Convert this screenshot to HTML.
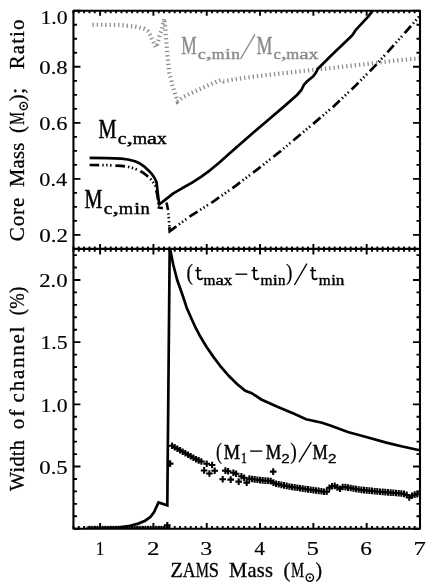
<!DOCTYPE html>
<html><head><meta charset="utf-8"><title>chart</title>
<style>html,body{margin:0;padding:0;background:#fff;}svg{display:block;}text{font-family:"Liberation Sans",sans-serif;}</style></head><body>
<svg width="436" height="588" viewBox="0 0 436 588" style="will-change:transform;opacity:0.9999">
<rect x="0" y="0" width="436" height="588" fill="#fff"/>
<path d="M73.45 10.80L73.45 13.30M73.45 246.40L73.45 251.70M73.45 528.70L73.45 525.90M78.78 10.80L78.78 13.30M78.78 246.40L78.78 251.70M78.78 528.70L78.78 525.90M84.11 10.80L84.11 13.30M84.11 246.40L84.11 251.70M84.11 528.70L84.11 525.90M89.44 10.80L89.44 13.30M89.44 246.40L89.44 251.70M89.44 528.70L89.44 525.90M94.78 10.80L94.78 13.30M94.78 246.40L94.78 251.70M94.78 528.70L94.78 525.90M100.11 10.80L100.11 15.70M100.11 244.00L100.11 254.50M100.11 528.70L100.11 523.10M105.44 10.80L105.44 13.30M105.44 246.40L105.44 251.70M105.44 528.70L105.44 525.90M110.77 10.80L110.77 13.30M110.77 246.40L110.77 251.70M110.77 528.70L110.77 525.90M116.10 10.80L116.10 13.30M116.10 246.40L116.10 251.70M116.10 528.70L116.10 525.90M121.43 10.80L121.43 13.30M121.43 246.40L121.43 251.70M121.43 528.70L121.43 525.90M126.77 10.80L126.77 13.30M126.77 246.40L126.77 251.70M126.77 528.70L126.77 525.90M132.10 10.80L132.10 13.30M132.10 246.40L132.10 251.70M132.10 528.70L132.10 525.90M137.43 10.80L137.43 13.30M137.43 246.40L137.43 251.70M137.43 528.70L137.43 525.90M142.76 10.80L142.76 13.30M142.76 246.40L142.76 251.70M142.76 528.70L142.76 525.90M148.09 10.80L148.09 13.30M148.09 246.40L148.09 251.70M148.09 528.70L148.09 525.90M153.42 10.80L153.42 15.70M153.42 244.00L153.42 254.50M153.42 528.70L153.42 523.10M158.75 10.80L158.75 13.30M158.75 246.40L158.75 251.70M158.75 528.70L158.75 525.90M164.09 10.80L164.09 13.30M164.09 246.40L164.09 251.70M164.09 528.70L164.09 525.90M169.42 10.80L169.42 13.30M169.42 246.40L169.42 251.70M169.42 528.70L169.42 525.90M174.75 10.80L174.75 13.30M174.75 246.40L174.75 251.70M174.75 528.70L174.75 525.90M180.08 10.80L180.08 13.30M180.08 246.40L180.08 251.70M180.08 528.70L180.08 525.90M185.41 10.80L185.41 13.30M185.41 246.40L185.41 251.70M185.41 528.70L185.41 525.90M190.74 10.80L190.74 13.30M190.74 246.40L190.74 251.70M190.74 528.70L190.74 525.90M196.08 10.80L196.08 13.30M196.08 246.40L196.08 251.70M196.08 528.70L196.08 525.90M201.41 10.80L201.41 13.30M201.41 246.40L201.41 251.70M201.41 528.70L201.41 525.90M206.74 10.80L206.74 15.70M206.74 244.00L206.74 254.50M206.74 528.70L206.74 523.10M212.07 10.80L212.07 13.30M212.07 246.40L212.07 251.70M212.07 528.70L212.07 525.90M217.40 10.80L217.40 13.30M217.40 246.40L217.40 251.70M217.40 528.70L217.40 525.90M222.73 10.80L222.73 13.30M222.73 246.40L222.73 251.70M222.73 528.70L222.73 525.90M228.06 10.80L228.06 13.30M228.06 246.40L228.06 251.70M228.06 528.70L228.06 525.90M233.40 10.80L233.40 13.30M233.40 246.40L233.40 251.70M233.40 528.70L233.40 525.90M238.73 10.80L238.73 13.30M238.73 246.40L238.73 251.70M238.73 528.70L238.73 525.90M244.06 10.80L244.06 13.30M244.06 246.40L244.06 251.70M244.06 528.70L244.06 525.90M249.39 10.80L249.39 13.30M249.39 246.40L249.39 251.70M249.39 528.70L249.39 525.90M254.72 10.80L254.72 13.30M254.72 246.40L254.72 251.70M254.72 528.70L254.72 525.90M260.05 10.80L260.05 15.70M260.05 244.00L260.05 254.50M260.05 528.70L260.05 523.10M265.39 10.80L265.39 13.30M265.39 246.40L265.39 251.70M265.39 528.70L265.39 525.90M270.72 10.80L270.72 13.30M270.72 246.40L270.72 251.70M270.72 528.70L270.72 525.90M276.05 10.80L276.05 13.30M276.05 246.40L276.05 251.70M276.05 528.70L276.05 525.90M281.38 10.80L281.38 13.30M281.38 246.40L281.38 251.70M281.38 528.70L281.38 525.90M286.71 10.80L286.71 13.30M286.71 246.40L286.71 251.70M286.71 528.70L286.71 525.90M292.04 10.80L292.04 13.30M292.04 246.40L292.04 251.70M292.04 528.70L292.04 525.90M297.37 10.80L297.37 13.30M297.37 246.40L297.37 251.70M297.37 528.70L297.37 525.90M302.71 10.80L302.71 13.30M302.71 246.40L302.71 251.70M302.71 528.70L302.71 525.90M308.04 10.80L308.04 13.30M308.04 246.40L308.04 251.70M308.04 528.70L308.04 525.90M313.37 10.80L313.37 15.70M313.37 244.00L313.37 254.50M313.37 528.70L313.37 523.10M318.70 10.80L318.70 13.30M318.70 246.40L318.70 251.70M318.70 528.70L318.70 525.90M324.03 10.80L324.03 13.30M324.03 246.40L324.03 251.70M324.03 528.70L324.03 525.90M329.36 10.80L329.36 13.30M329.36 246.40L329.36 251.70M329.36 528.70L329.36 525.90M334.70 10.80L334.70 13.30M334.70 246.40L334.70 251.70M334.70 528.70L334.70 525.90M340.03 10.80L340.03 13.30M340.03 246.40L340.03 251.70M340.03 528.70L340.03 525.90M345.36 10.80L345.36 13.30M345.36 246.40L345.36 251.70M345.36 528.70L345.36 525.90M350.69 10.80L350.69 13.30M350.69 246.40L350.69 251.70M350.69 528.70L350.69 525.90M356.02 10.80L356.02 13.30M356.02 246.40L356.02 251.70M356.02 528.70L356.02 525.90M361.35 10.80L361.35 13.30M361.35 246.40L361.35 251.70M361.35 528.70L361.35 525.90M366.68 10.80L366.68 15.70M366.68 244.00L366.68 254.50M366.68 528.70L366.68 523.10M372.02 10.80L372.02 13.30M372.02 246.40L372.02 251.70M372.02 528.70L372.02 525.90M377.35 10.80L377.35 13.30M377.35 246.40L377.35 251.70M377.35 528.70L377.35 525.90M382.68 10.80L382.68 13.30M382.68 246.40L382.68 251.70M382.68 528.70L382.68 525.90M388.01 10.80L388.01 13.30M388.01 246.40L388.01 251.70M388.01 528.70L388.01 525.90M393.34 10.80L393.34 13.30M393.34 246.40L393.34 251.70M393.34 528.70L393.34 525.90M398.67 10.80L398.67 13.30M398.67 246.40L398.67 251.70M398.67 528.70L398.67 525.90M404.01 10.80L404.01 13.30M404.01 246.40L404.01 251.70M404.01 528.70L404.01 525.90M409.34 10.80L409.34 13.30M409.34 246.40L409.34 251.70M409.34 528.70L409.34 525.90M414.67 10.80L414.67 13.30M414.67 246.40L414.67 251.70M414.67 528.70L414.67 525.90M420.00 10.80L420.00 15.70M420.00 244.00L420.00 254.50M420.00 528.70L420.00 523.10M73.45 248.90L76.95 248.90M420.00 248.90L416.50 248.90M73.45 234.89L80.45 234.89M420.00 234.89L413.00 234.89M73.45 220.89L76.95 220.89M420.00 220.89L416.50 220.89M73.45 206.88L76.95 206.88M420.00 206.88L416.50 206.88M73.45 192.88L76.95 192.88M420.00 192.88L416.50 192.88M73.45 178.87L80.45 178.87M420.00 178.87L413.00 178.87M73.45 164.86L76.95 164.86M420.00 164.86L416.50 164.86M73.45 150.86L76.95 150.86M420.00 150.86L416.50 150.86M73.45 136.85L76.95 136.85M420.00 136.85L416.50 136.85M73.45 122.85L80.45 122.85M420.00 122.85L413.00 122.85M73.45 108.84L76.95 108.84M420.00 108.84L416.50 108.84M73.45 94.84L76.95 94.84M420.00 94.84L416.50 94.84M73.45 80.83L76.95 80.83M420.00 80.83L416.50 80.83M73.45 66.82L80.45 66.82M420.00 66.82L413.00 66.82M73.45 52.82L76.95 52.82M420.00 52.82L416.50 52.82M73.45 38.81L76.95 38.81M420.00 38.81L416.50 38.81M73.45 24.81L76.95 24.81M420.00 24.81L416.50 24.81M73.45 10.80L80.45 10.80M420.00 10.80L413.00 10.80M73.45 528.70L80.45 528.70M420.00 528.70L413.00 528.70M73.45 516.26L76.95 516.26M420.00 516.26L416.50 516.26M73.45 503.83L76.95 503.83M420.00 503.83L416.50 503.83M73.45 491.39L76.95 491.39M420.00 491.39L416.50 491.39M73.45 478.96L76.95 478.96M420.00 478.96L416.50 478.96M73.45 466.52L80.45 466.52M420.00 466.52L413.00 466.52M73.45 454.09L76.95 454.09M420.00 454.09L416.50 454.09M73.45 441.65L76.95 441.65M420.00 441.65L416.50 441.65M73.45 429.22L76.95 429.22M420.00 429.22L416.50 429.22M73.45 416.78L76.95 416.78M420.00 416.78L416.50 416.78M73.45 404.34L80.45 404.34M420.00 404.34L413.00 404.34M73.45 391.91L76.95 391.91M420.00 391.91L416.50 391.91M73.45 379.47L76.95 379.47M420.00 379.47L416.50 379.47M73.45 367.04L76.95 367.04M420.00 367.04L416.50 367.04M73.45 354.60L76.95 354.60M420.00 354.60L416.50 354.60M73.45 342.17L80.45 342.17M420.00 342.17L413.00 342.17M73.45 329.73L76.95 329.73M420.00 329.73L416.50 329.73M73.45 317.30L76.95 317.30M420.00 317.30L416.50 317.30M73.45 304.86L76.95 304.86M420.00 304.86L416.50 304.86M73.45 292.42L76.95 292.42M420.00 292.42L416.50 292.42M73.45 279.99L80.45 279.99M420.00 279.99L413.00 279.99M73.45 267.55L76.95 267.55M420.00 267.55L416.50 267.55M73.45 255.12L76.95 255.12M420.00 255.12L416.50 255.12" stroke="#000" stroke-width="1.9" fill="none"/>
<clipPath id="cu"><rect x="73.45" y="10.8" width="346.55" height="238.10"/></clipPath>
<clipPath id="cl"><rect x="73.45" y="248.9" width="346.55" height="279.80"/></clipPath>
<path d="M92.5 24.7L120.0 24.9L135.0 26.6L141.1 27.8L144.6 28.9L148.0 31.2L150.3 35.2L152.0 39.2L154.3 43.8L156.0 47.3L157.8 43.3L158.6 39.2L159.7 35.2L161.2 31.2L162.4 27.2L163.5 22.6L164.1 18.6L165.2 27.2L165.8 35.2L166.6 44.4L167.5 56.4L169.3 72.9L172.9 87.1L177.5 101.3L183.6 96.8L190.0 93.6L199.8 89.2L208.0 85.4L220.9 79.9L223.7 81.3L232.0 79.8L241.6 78.3L259.4 75.9L280.3 73.5L300.0 71.3L313.3 69.9L331.7 68.0L350.0 65.9L375.0 63.0L398.4 60.3L419.0 58.4" fill="none" stroke="#8a8a8a" stroke-width="4.2" stroke-dasharray="1.25 3.03" clip-path="url(#cu)"/>
<path d="M89.6 157.9L107.0 158.1L121.3 158.6L128.0 159.5L135.0 161.3L140.0 163.6L144.0 166.3L148.5 170.4L151.5 173.6L154.5 178.0L156.5 182.0L157.9 194.2L159.2 204.5L167.0 198.4L173.3 193.4L182.0 188.3L191.7 182.9L201.0 176.8L210.0 170.3L220.0 162.0L230.0 153.0L248.3 136.9L266.7 121.2L285.0 105.6L297.0 95.0L301.4 90.0L304.0 84.6L307.5 81.0L313.3 76.3L316.0 72.5L317.9 68.7L331.7 55.0L350.0 37.5L352.5 35.0L355.6 30.2L368.4 16.4L372.5 10.9L376.0 7.0" fill="none" stroke="#000" stroke-width="2.7" stroke-linejoin="round" clip-path="url(#cu)"/>
<path d="M89.6 165.0L107.0 165.2L121.0 165.8L128.0 166.8L134.0 168.4L139.0 170.2L143.0 172.7L147.0 175.7L150.5 178.9L153.0 182.0L155.3 186.0L157.3 195.0L158.9 206.0" fill="none" stroke="#000" stroke-width="2.7" stroke-dasharray="9.6 3.1 1.4 2.5 1.4 2.5 1.4 3.9" clip-path="url(#cu)"/>
<path d="M157.6 207.2L162.9 208.3M166.5 202.6L168.1 210.0" fill="none" stroke="#000" stroke-width="2.6"/>
<path d="M168.4 213.3L168.5 214.7M168.7 216.9L168.8 218.3M169.0 221.1L169.1 222.5M169.3 225.2L169.4 226.5" fill="none" stroke="#000" stroke-width="2.7"/>
<path d="M169.35 227.2L169.7 231.2L176.4 226.3" fill="none" stroke="#000" stroke-width="2.7" stroke-linejoin="miter"/>
<path d="M176.4 226.3L190.7 215.9L213.2 201.6L235.6 185.8L258.1 168.8L280.6 151.1L295.0 139.0L312.9 124.1L333.8 106.2L354.6 86.6L375.5 65.4L393.4 45.6L408.3 29.0L419.7 15.8" fill="none" stroke="#000" stroke-width="2.7" stroke-dasharray="9.6 3.1 1.4 2.5 1.4 2.5 1.4 3.9" stroke-dashoffset="9.6" clip-path="url(#cu)"/>
<path d="M90.0 529.0L105.0 528.6L117.9 527.7L130.0 525.8L138.3 523.6L145.1 520.7L150.6 516.8L154.1 512.0L158.5 502.4L167.3 505.4L169.7 247.0L173.2 264.5L177.2 280.0L183.2 297.0L186.8 308.0L191.4 318.5L195.7 328.0L201.0 337.8L206.6 347.0L213.6 357.1L221.0 367.0L229.2 376.3L237.0 384.0L245.3 390.8L251.7 393.2L261.3 399.5L277.4 406.8L293.5 413.6L306.1 419.2L322.1 422.7L331.7 425.9L347.8 432.0L367.1 437.2L386.3 442.6L402.4 446.5L419.7 450.2" fill="none" stroke="#000" stroke-width="2.7" stroke-linejoin="miter" clip-path="url(#cl)"/>
<path d="M89.4 528.7V525.7M92.1 528.7V525.7M94.8 528.7V525.7M97.4 528.7V525.7M100.1 528.7V525.7M102.8 528.7V525.7M105.4 528.7V525.7M108.1 528.7V525.7M110.8 528.7V525.7M113.4 528.7V525.7M116.1 528.7V525.7M118.8 528.7V525.7M121.4 528.7V525.7M124.1 528.7V525.7M126.8 528.7V525.7M129.4 528.7V525.7M132.1 528.7V525.7M134.8 528.7V525.7M137.4 528.7V525.7M140.1 528.7V525.7M142.8 528.7V525.7M145.4 528.7V525.7M148.1 528.7V525.7M150.8 528.7V525.7M153.4 528.7V525.7M156.1 528.7V525.7M158.8 528.7V525.7M161.4 528.7V525.7M164.1 528.7V525.7M166.8 528.7V525.7" fill="none" stroke="#000" stroke-width="1.4"/>
<path d="M86.4 527.2H169.8" fill="none" stroke="#000" stroke-width="1.3"/>
<path d="M168.8 445.7h6.6M172.1 442.4v6.6M171.4 447.2h6.6M174.7 443.9v6.6M174.1 448.7h6.6M177.4 445.4v6.6M176.8 450.2h6.6M180.1 446.9v6.6M179.4 451.7h6.6M182.7 448.4v6.6M182.1 453.2h6.6M185.4 449.9v6.6M184.8 454.7h6.6M188.1 451.4v6.6M187.4 456.2h6.6M190.7 452.9v6.6M190.1 457.7h6.6M193.4 454.4v6.6M192.8 459.2h6.6M196.1 455.9v6.6M195.4 460.4h6.6M198.7 457.1v6.6M198.1 461.5h6.6M201.4 458.2v6.6M200.8 470.4h6.6M204.1 467.1v6.6M203.4 463.7h6.6M206.7 460.4v6.6M206.1 473.5h6.6M209.4 470.2v6.6M208.8 465.0h6.6M212.1 461.7v6.6M211.4 470.8h6.6M214.7 467.5v6.6M219.4 479.3h6.6M222.7 476.0v6.6M222.1 470.6h6.6M225.4 467.3v6.6M224.8 471.2h6.6M228.1 467.9v6.6M227.4 479.6h6.6M230.7 476.3v6.6M230.1 472.8h6.6M233.4 469.5v6.6M232.8 473.7h6.6M236.1 470.4v6.6M235.4 481.6h6.6M238.7 478.3v6.6M238.1 476.2h6.6M241.4 472.9v6.6M240.8 477.7h6.6M244.1 474.4v6.6M243.4 482.6h6.6M246.7 479.3v6.6M246.1 478.6h6.6M249.4 475.3v6.6M248.8 479.0h6.6M252.1 475.7v6.6M251.4 479.4h6.6M254.7 476.1v6.6M254.1 479.7h6.6M257.4 476.4v6.6M256.8 480.1h6.6M260.1 476.8v6.6M259.4 480.4h6.6M262.7 477.1v6.6M262.1 480.6h6.6M265.4 477.3v6.6M264.8 480.8h6.6M268.1 477.5v6.6M267.4 481.1h6.6M270.7 477.8v6.6M270.1 482.6h6.6M273.4 479.3v6.6M272.7 483.8h6.6M276.0 480.5v6.6M275.4 484.3h6.6M278.7 481.0v6.6M278.1 484.9h6.6M281.4 481.6v6.6M280.7 485.4h6.6M284.0 482.1v6.6M283.4 485.9h6.6M286.7 482.6v6.6M286.1 486.5h6.6M289.4 483.2v6.6M288.7 487.0h6.6M292.0 483.7v6.6M291.4 487.4h6.6M294.7 484.1v6.6M294.1 487.8h6.6M297.4 484.5v6.6M296.7 488.2h6.6M300.0 484.9v6.6M299.4 488.6h6.6M302.7 485.3v6.6M302.1 489.0h6.6M305.4 485.7v6.6M304.7 489.4h6.6M308.0 486.1v6.6M307.4 489.8h6.6M310.7 486.5v6.6M310.1 490.1h6.6M313.4 486.8v6.6M312.7 490.5h6.6M316.0 487.2v6.6M315.4 490.9h6.6M318.7 487.6v6.6M318.1 491.3h6.6M321.4 488.0v6.6M320.7 491.7h6.6M324.0 488.4v6.6M323.4 491.7h6.6M326.7 488.4v6.6M326.1 487.8h6.6M329.4 484.5v6.6M328.7 486.3h6.6M332.0 483.0v6.6M331.4 485.9h6.6M334.7 482.6v6.6M334.1 487.4h6.6M337.4 484.1v6.6M336.7 488.8h6.6M340.0 485.5v6.6M339.4 487.0h6.6M342.7 483.7v6.6M342.1 487.1h6.6M345.4 483.8v6.6M344.7 487.6h6.6M348.0 484.3v6.6M347.4 488.0h6.6M350.7 484.7v6.6M350.1 488.5h6.6M353.4 485.2v6.6M352.7 489.0h6.6M356.0 485.7v6.6M355.4 489.5h6.6M358.7 486.2v6.6M358.1 489.9h6.6M361.4 486.6v6.6M360.7 490.1h6.6M364.0 486.8v6.6M363.4 490.4h6.6M366.7 487.1v6.6M366.1 490.6h6.6M369.4 487.3v6.6M368.7 490.9h6.6M372.0 487.6v6.6M371.4 491.2h6.6M374.7 487.9v6.6M374.0 491.4h6.6M377.3 488.1v6.6M376.7 491.7h6.6M380.0 488.4v6.6M379.4 491.9h6.6M382.7 488.6v6.6M382.0 492.1h6.6M385.3 488.8v6.6M384.7 492.4h6.6M388.0 489.1v6.6M387.4 492.6h6.6M390.7 489.3v6.6M390.0 492.8h6.6M393.3 489.5v6.6M392.7 493.0h6.6M396.0 489.7v6.6M395.4 493.2h6.6M398.7 489.9v6.6M398.0 493.5h6.6M401.3 490.2v6.6M400.7 493.9h6.6M404.0 490.6v6.6M403.4 494.9h6.6M406.7 491.6v6.6M406.0 497.4h6.6M409.3 494.1v6.6M408.7 495.8h6.6M412.0 492.5v6.6M411.4 494.6h6.6M414.7 491.3v6.6M414.0 494.1h6.6M417.3 490.8v6.6M416.7 493.6h6.6M420.0 490.3v6.6M166.8 463.6h6.6M170.1 460.3v6.6M269.9 471.6h6.6M273.2 468.3v6.6M164.0 525.3h6.6M167.3 522.0v6.6" fill="none" stroke="#000" stroke-width="2.05" clip-path="url(#cl)"/>
<rect x="73.45" y="10.8" width="346.55" height="517.90" fill="none" stroke="#000" stroke-width="2.1" stroke-linejoin="round"/>
<path d="M73.45 248.9H420.0" stroke="#000" stroke-width="2.1"/>
<text transform="translate(40.45 23.90) scale(1.2588 1.0431)" style="fill:#000;stroke:#000;stroke-width:0.12px;font-family:'Liberation Serif';font-weight:normal;font-size:17.3px;">1.0</text>
<text transform="translate(39.29 74.02) scale(1.3142 1.0431)" style="fill:#000;stroke:#000;stroke-width:0.12px;font-family:'Liberation Serif';font-weight:normal;font-size:17.3px;">0.8</text>
<text transform="translate(39.30 130.05) scale(1.3030 1.0431)" style="fill:#000;stroke:#000;stroke-width:0.12px;font-family:'Liberation Serif';font-weight:normal;font-size:17.3px;">0.6</text>
<text transform="translate(39.31 186.07) scale(1.2867 1.0431)" style="fill:#000;stroke:#000;stroke-width:0.12px;font-family:'Liberation Serif';font-weight:normal;font-size:17.3px;">0.4</text>
<text transform="translate(39.28 242.09) scale(1.3312 1.0431)" style="fill:#000;stroke:#000;stroke-width:0.12px;font-family:'Liberation Serif';font-weight:normal;font-size:17.3px;">0.2</text>
<text transform="translate(39.17 287.19) scale(1.3198 1.0431)" style="fill:#000;stroke:#000;stroke-width:0.12px;font-family:'Liberation Serif';font-weight:normal;font-size:17.3px;">2.0</text>
<text transform="translate(40.45 349.37) scale(1.2588 1.0510)" style="fill:#000;stroke:#000;stroke-width:0.12px;font-family:'Liberation Serif';font-weight:normal;font-size:17.3px;">1.5</text>
<text transform="translate(40.45 411.54) scale(1.2588 1.0431)" style="fill:#000;stroke:#000;stroke-width:0.12px;font-family:'Liberation Serif';font-weight:normal;font-size:17.3px;">1.0</text>
<text transform="translate(39.29 473.72) scale(1.3142 1.0431)" style="fill:#000;stroke:#000;stroke-width:0.12px;font-family:'Liberation Serif';font-weight:normal;font-size:17.3px;">0.5</text>
<text transform="translate(95.58 554.90) scale(1.0421 1.0510)" style="fill:#000;stroke:#000;stroke-width:0.12px;font-family:'Liberation Serif';font-weight:normal;font-size:17.3px;">1</text>
<text transform="translate(146.90 554.90) scale(1.4451 1.0510)" style="fill:#000;stroke:#000;stroke-width:0.12px;font-family:'Liberation Serif';font-weight:normal;font-size:17.3px;">2</text>
<text transform="translate(200.25 554.90) scale(1.3929 1.0510)" style="fill:#000;stroke:#000;stroke-width:0.12px;font-family:'Liberation Serif';font-weight:normal;font-size:17.3px;">3</text>
<text transform="translate(254.22 554.90) scale(1.2431 1.0510)" style="fill:#000;stroke:#000;stroke-width:0.12px;font-family:'Liberation Serif';font-weight:normal;font-size:17.3px;">4</text>
<text transform="translate(306.47 554.90) scale(1.4451 1.0590)" style="fill:#000;stroke:#000;stroke-width:0.12px;font-family:'Liberation Serif';font-weight:normal;font-size:17.3px;">5</text>
<text transform="translate(360.35 554.90) scale(1.3443 1.0510)" style="fill:#000;stroke:#000;stroke-width:0.12px;font-family:'Liberation Serif';font-weight:normal;font-size:17.3px;">6</text>
<text transform="translate(413.60 554.90) scale(1.4272 1.0590)" style="fill:#000;stroke:#000;stroke-width:0.12px;font-family:'Liberation Serif';font-weight:normal;font-size:17.3px;">7</text>
<text transform="translate(24.30 491.00) rotate(-90) scale(1.0080 1.0000)" style="fill:#000;stroke:#000;stroke-width:0.3px;letter-spacing:0.300px;font-family:'Liberation Serif';font-weight:normal;font-size:20.0px;">Width</text>
<text transform="translate(24.30 429.14) rotate(-90) scale(1.0500 1.0000)" style="fill:#000;stroke:#000;stroke-width:0.3px;letter-spacing:1.719px;font-family:'Liberation Serif';font-weight:normal;font-size:20.0px;">of</text>
<text transform="translate(24.30 402.44) rotate(-90) scale(1.0500 1.0000)" style="fill:#000;stroke:#000;stroke-width:0.3px;letter-spacing:1.675px;font-family:'Liberation Serif';font-weight:normal;font-size:20.0px;">channel</text>
<text transform="translate(24.30 315.34) rotate(-90) scale(0.9306 1.0000)" style="fill:#000;stroke:#000;stroke-width:0.3px;letter-spacing:0.300px;font-family:'Liberation Serif';font-weight:normal;font-size:20.0px;">(%)</text>
<text transform="translate(24.30 241.24) rotate(-90) scale(1.0500 1.0000)" style="fill:#000;stroke:#000;stroke-width:0.3px;letter-spacing:0.835px;font-family:'Liberation Serif';font-weight:normal;font-size:20.0px;">Core</text>
<text transform="translate(24.30 187.01) rotate(-90) scale(1.0239 1.0000)" style="fill:#000;stroke:#000;stroke-width:0.3px;letter-spacing:0.300px;font-family:'Liberation Serif';font-weight:normal;font-size:20.0px;">Mass</text>
<text transform="translate(24.30 132.92) rotate(-90) scale(1.0196 1.0000)" style="fill:#000;stroke:#000;stroke-width:0.3px;font-family:'Liberation Serif';font-weight:normal;font-size:20.0px;">(</text>
<text transform="translate(24.30 124.83) rotate(-90) scale(0.7169 1.0000)" style="fill:#000;stroke:#000;stroke-width:0.3px;font-family:'Liberation Serif';font-weight:normal;font-size:20.0px;">M</text>
<circle cx="23.6" cy="106.0" r="3.7" fill="none" stroke="#000" stroke-width="1.35"/><circle cx="23.6" cy="106.0" r="1.15" fill="#000"/>
<text transform="translate(24.30 101.21) rotate(-90) scale(1.0192 1.0000)" style="fill:#000;stroke:#000;stroke-width:0.3px;font-family:'Liberation Serif';font-weight:normal;font-size:20.0px;">)</text>
<text transform="translate(24.30 94.03) rotate(-90) scale(1.1333 1.0000)" style="fill:#000;stroke:#000;stroke-width:0.3px;font-family:'Liberation Serif';font-weight:normal;font-size:20.0px;">;</text>
<text transform="translate(24.30 69.23) rotate(-90) scale(1.0500 1.0000)" style="fill:#000;stroke:#000;stroke-width:0.3px;letter-spacing:1.001px;font-family:'Liberation Serif';font-weight:normal;font-size:20.0px;">Ratio</text>
<text transform="translate(170.59 577.20) scale(1.0098 1.0000)" style="fill:#000;stroke:#000;stroke-width:0.3px;font-family:'Liberation Serif';font-weight:normal;font-size:20.0px;">Z</text>
<text transform="translate(182.72 577.20) scale(0.8865 1.0000)" style="fill:#000;stroke:#000;stroke-width:0.3px;font-family:'Liberation Serif';font-weight:normal;font-size:20.0px;">A</text>
<text transform="translate(195.86 577.20) scale(0.7410 1.0000)" style="fill:#000;stroke:#000;stroke-width:0.3px;font-family:'Liberation Serif';font-weight:normal;font-size:20.0px;">M</text>
<text transform="translate(208.81 577.20) scale(0.9186 1.0000)" style="fill:#000;stroke:#000;stroke-width:0.3px;font-family:'Liberation Serif';font-weight:normal;font-size:20.0px;">S</text>
<text transform="translate(228.99 577.20) scale(1.0215 1.0000)" style="fill:#000;stroke:#000;stroke-width:0.3px;letter-spacing:0.300px;font-family:'Liberation Serif';font-weight:normal;font-size:20.0px;">Mass</text>
<text transform="translate(283.38 577.20) scale(1.0196 1.0000)" style="fill:#000;stroke:#000;stroke-width:0.3px;font-family:'Liberation Serif';font-weight:normal;font-size:20.0px;">(</text>
<text transform="translate(290.96 577.20) scale(0.7349 1.0000)" style="fill:#000;stroke:#000;stroke-width:0.3px;font-family:'Liberation Serif';font-weight:normal;font-size:20.0px;">M</text>
<circle cx="309.8" cy="577.6" r="3.7" fill="none" stroke="#000" stroke-width="1.35"/><circle cx="309.8" cy="577.6" r="1.15" fill="#000"/>
<text transform="translate(315.51 577.20) scale(0.9808 1.0000)" style="fill:#000;stroke:#000;stroke-width:0.3px;font-family:'Liberation Serif';font-weight:normal;font-size:20.0px;">)</text>
<text transform="translate(98.59 137.80) scale(0.7785 1.0159)" style="fill:#000;stroke:#000;stroke-width:0.55px;font-family:'Liberation Serif';font-weight:normal;font-size:26px;">M</text>
<text transform="translate(117.72 143.70) scale(1.1318 1.0000)" style="fill:#000;stroke:#000;stroke-width:0.42px;font-family:'Liberation Serif';font-weight:normal;font-size:17.2px;">c</text>
<text transform="translate(126.45 143.70) scale(1.5237 1.0000)" style="fill:#000;stroke:#000;stroke-width:0.42px;font-family:'Liberation Serif';font-weight:normal;font-size:17.2px;">,</text>
<text transform="translate(132.63 143.70) scale(1.0769 1.0000)" style="fill:#000;stroke:#000;stroke-width:0.42px;font-family:'Liberation Serif';font-weight:normal;font-size:17.2px;">m</text>
<text transform="translate(146.91 143.70) scale(1.3100 1.0000)" style="fill:#000;stroke:#000;stroke-width:0.42px;font-family:'Liberation Serif';font-weight:normal;font-size:17.2px;">a</text>
<text transform="translate(156.80 143.70) scale(1.1749 1.0000)" style="fill:#000;stroke:#000;stroke-width:0.42px;font-family:'Liberation Serif';font-weight:normal;font-size:17.2px;">x</text>
<text transform="translate(84.50 207.90) scale(0.7739 1.0217)" style="fill:#000;stroke:#000;stroke-width:0.55px;font-family:'Liberation Serif';font-weight:normal;font-size:26px;">M</text>
<text transform="translate(103.72 213.90) scale(1.1318 1.0000)" style="fill:#000;stroke:#000;stroke-width:0.42px;font-family:'Liberation Serif';font-weight:normal;font-size:17.2px;">c</text>
<text transform="translate(112.45 213.90) scale(1.5237 1.0000)" style="fill:#000;stroke:#000;stroke-width:0.42px;font-family:'Liberation Serif';font-weight:normal;font-size:17.2px;">,</text>
<text transform="translate(118.63 213.90) scale(1.0769 1.0000)" style="fill:#000;stroke:#000;stroke-width:0.42px;font-family:'Liberation Serif';font-weight:normal;font-size:17.2px;">m</text>
<text transform="translate(133.95 213.90) scale(1.3081 1.0000)" style="fill:#000;stroke:#000;stroke-width:0.42px;font-family:'Liberation Serif';font-weight:normal;font-size:17.2px;">i</text>
<text transform="translate(140.43 213.90) scale(1.0753 1.0000)" style="fill:#000;stroke:#000;stroke-width:0.42px;font-family:'Liberation Serif';font-weight:normal;font-size:17.2px;">n</text>
<text transform="translate(181.28 53.60) scale(0.6673 0.9395)" style="fill:#8a8a8a;stroke:#8a8a8a;stroke-width:0.4px;font-family:'Liberation Serif';font-weight:normal;font-size:26px;">M</text>
<text transform="translate(197.77 58.70) scale(1.1624 1.0000)" style="fill:#8a8a8a;stroke:#8a8a8a;stroke-width:0.42px;font-family:'Liberation Serif';font-weight:normal;font-size:15.6px;">c</text>
<text transform="translate(205.81 58.70) scale(1.5915 1.0000)" style="fill:#8a8a8a;stroke:#8a8a8a;stroke-width:0.42px;font-family:'Liberation Serif';font-weight:normal;font-size:15.6px;">,</text>
<text transform="translate(211.67 58.70) scale(1.0497 1.0000)" style="fill:#8a8a8a;stroke:#8a8a8a;stroke-width:0.42px;font-family:'Liberation Serif';font-weight:normal;font-size:15.6px;">m</text>
<text transform="translate(225.07 58.70) scale(1.3622 1.0000)" style="fill:#8a8a8a;stroke:#8a8a8a;stroke-width:0.42px;font-family:'Liberation Serif';font-weight:normal;font-size:15.6px;">i</text>
<text transform="translate(231.15 58.70) scale(1.1166 1.0000)" style="fill:#8a8a8a;stroke:#8a8a8a;stroke-width:0.42px;font-family:'Liberation Serif';font-weight:normal;font-size:15.6px;">n</text>
<path d="M240.5 59.0L255.0 34.3" stroke="#8a8a8a" stroke-width="1.35" fill="none"/>
<text transform="translate(256.57 53.60) scale(0.6858 0.9395)" style="fill:#8a8a8a;stroke:#8a8a8a;stroke-width:0.4px;font-family:'Liberation Serif';font-weight:normal;font-size:26px;">M</text>
<text transform="translate(273.54 58.60) scale(1.0598 1.0000)" style="fill:#8a8a8a;stroke:#8a8a8a;stroke-width:0.42px;font-family:'Liberation Serif';font-weight:normal;font-size:15.6px;">c</text>
<text transform="translate(280.89 58.60) scale(1.4589 1.0000)" style="fill:#8a8a8a;stroke:#8a8a8a;stroke-width:0.42px;font-family:'Liberation Serif';font-weight:normal;font-size:15.6px;">,</text>
<text transform="translate(286.27 58.60) scale(1.0669 1.0000)" style="fill:#8a8a8a;stroke:#8a8a8a;stroke-width:0.42px;font-family:'Liberation Serif';font-weight:normal;font-size:15.6px;">m</text>
<text transform="translate(299.26 58.60) scale(1.3470 1.0000)" style="fill:#8a8a8a;stroke:#8a8a8a;stroke-width:0.42px;font-family:'Liberation Serif';font-weight:normal;font-size:15.6px;">a</text>
<text transform="translate(308.50 58.60) scale(1.2687 1.0000)" style="fill:#8a8a8a;stroke:#8a8a8a;stroke-width:0.42px;font-family:'Liberation Serif';font-weight:normal;font-size:15.6px;">x</text>
<text transform="translate(186.42 280.00) scale(0.8715 1.0000)" style="fill:#000;stroke:#000;stroke-width:0.2px;font-family:'Liberation Serif';font-weight:normal;font-size:22.5px;">(</text>
<path d="M197.8 266.9V276.5Q197.8 279.4 200.4 279.4Q201.9 279.4 202.6 277.8" fill="none" stroke="#000" stroke-width="1.75"/><path d="M195.2 270.5H201.3" fill="none" stroke="#000" stroke-width="1.4"/>
<text transform="translate(203.49 284.70) scale(0.9809 1.0000)" style="fill:#000;stroke:#000;stroke-width:0.42px;font-family:'Liberation Serif';font-weight:normal;font-size:15.6px;">m</text>
<text transform="translate(215.44 284.70) scale(1.2171 1.0000)" style="fill:#000;stroke:#000;stroke-width:0.42px;font-family:'Liberation Serif';font-weight:normal;font-size:15.6px;">a</text>
<text transform="translate(223.83 284.70) scale(1.0817 1.0000)" style="fill:#000;stroke:#000;stroke-width:0.42px;font-family:'Liberation Serif';font-weight:normal;font-size:15.6px;">x</text>
<path d="M235.4 274.2H247.3" stroke="#000" stroke-width="1.35" fill="none"/>
<path d="M254.1 266.9V276.5Q254.1 279.4 256.7 279.4Q258.2 279.4 258.9 277.8" fill="none" stroke="#000" stroke-width="1.75"/><path d="M251.5 270.5H257.6" fill="none" stroke="#000" stroke-width="1.4"/>
<text transform="translate(260.39 284.70) scale(0.9895 1.0000)" style="fill:#000;stroke:#000;stroke-width:0.42px;font-family:'Liberation Serif';font-weight:normal;font-size:15.6px;">m</text>
<text transform="translate(272.83 284.70) scale(1.1752 1.0000)" style="fill:#000;stroke:#000;stroke-width:0.42px;font-family:'Liberation Serif';font-weight:normal;font-size:15.6px;">i</text>
<text transform="translate(277.90 284.70) scale(0.9512 1.0000)" style="fill:#000;stroke:#000;stroke-width:0.42px;font-family:'Liberation Serif';font-weight:normal;font-size:15.6px;">n</text>
<text transform="translate(286.02 280.00) scale(0.8547 1.0000)" style="fill:#000;stroke:#000;stroke-width:0.2px;font-family:'Liberation Serif';font-weight:normal;font-size:22.5px;">)</text>
<path d="M294.4 285.0L306.9 263.7" stroke="#000" stroke-width="1.35" fill="none"/>
<path d="M312.5 266.9V276.5Q312.5 279.4 315.1 279.4Q316.6 279.4 317.3 277.8" fill="none" stroke="#000" stroke-width="1.75"/><path d="M309.9 270.5H316.0" fill="none" stroke="#000" stroke-width="1.4"/>
<text transform="translate(318.69 284.70) scale(0.9809 1.0000)" style="fill:#000;stroke:#000;stroke-width:0.42px;font-family:'Liberation Serif';font-weight:normal;font-size:15.6px;">m</text>
<text transform="translate(331.17 284.70) scale(1.0684 1.0000)" style="fill:#000;stroke:#000;stroke-width:0.42px;font-family:'Liberation Serif';font-weight:normal;font-size:15.6px;">i</text>
<text transform="translate(335.86 284.70) scale(1.1028 1.0000)" style="fill:#000;stroke:#000;stroke-width:0.42px;font-family:'Liberation Serif';font-weight:normal;font-size:15.6px;">n</text>
<text transform="translate(215.89 458.50) scale(0.8017 1.0000)" style="fill:#000;stroke:#000;stroke-width:0.2px;font-family:'Liberation Serif';font-weight:normal;font-size:22.5px;">(</text>
<text transform="translate(223.85 459.00) scale(0.8193 0.9771)" style="fill:#000;stroke:#000;stroke-width:0.5px;font-family:'Liberation Serif';font-weight:normal;font-size:22.5px;">M</text>
<text transform="translate(241.09 463.20) scale(0.8451 0.9740)" style="fill:#000;stroke:#000;stroke-width:0.4px;font-family:'Liberation Serif';font-weight:normal;font-size:14px;">1</text>
<path d="M250.1 451.1H262.3" stroke="#000" stroke-width="1.35" fill="none"/>
<text transform="translate(265.68 459.00) scale(0.7764 0.9771)" style="fill:#000;stroke:#000;stroke-width:0.5px;font-family:'Liberation Serif';font-weight:normal;font-size:22.5px;">M</text>
<text transform="translate(281.14 463.10) scale(1.0832 0.8469)" style="fill:#000;stroke:#000;stroke-width:0.35px;font-family:'Liberation Sans';font-weight:normal;font-size:14px;">2</text>
<text transform="translate(290.31 458.50) scale(0.8718 1.0000)" style="fill:#000;stroke:#000;stroke-width:0.2px;font-family:'Liberation Serif';font-weight:normal;font-size:22.5px;">)</text>
<path d="M299.0 462.2L311.3 442.2" stroke="#000" stroke-width="1.35" fill="none"/>
<text transform="translate(312.48 459.00) scale(0.7657 0.9771)" style="fill:#000;stroke:#000;stroke-width:0.5px;font-family:'Liberation Serif';font-weight:normal;font-size:22.5px;">M</text>
<text transform="translate(327.94 463.10) scale(1.0832 0.8469)" style="fill:#000;stroke:#000;stroke-width:0.35px;font-family:'Liberation Sans';font-weight:normal;font-size:14px;">2</text>
</svg></body></html>
